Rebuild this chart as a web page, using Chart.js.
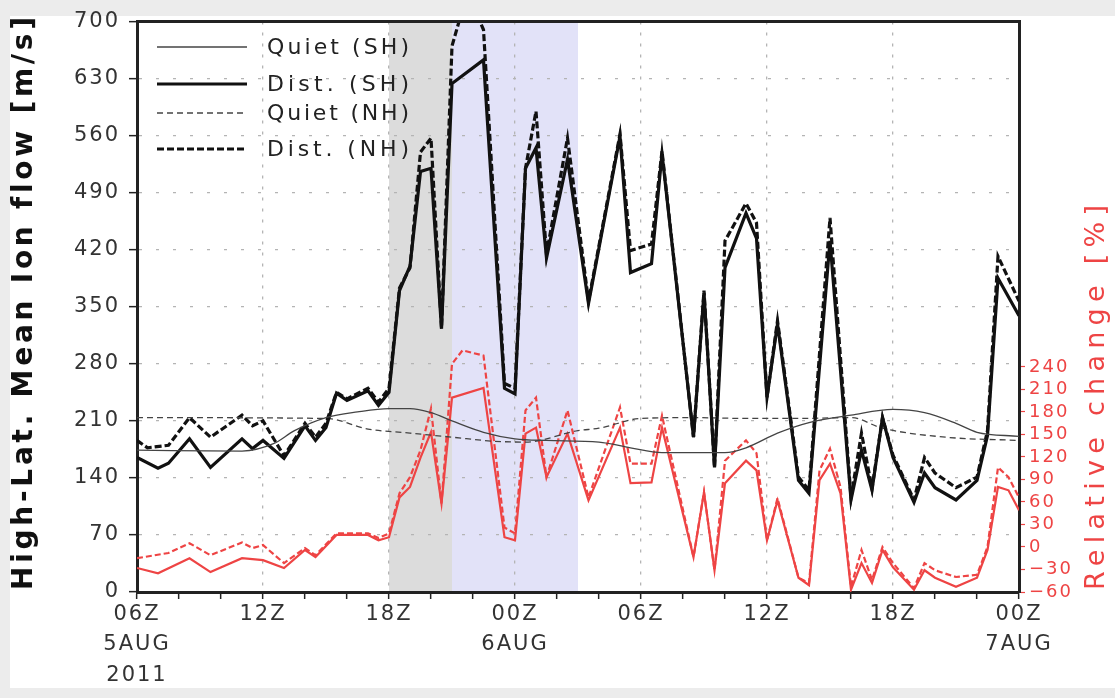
<!DOCTYPE html>
<html>
<head>
<meta charset="utf-8">
<script src="https://cdn.jsdelivr.net/npm/chart.js@4.4.1/dist/chart.umd.min.js"></script>
<style>
  html, body { margin: 0; padding: 0; background: #ececec; }
  #wrap { width: 1115px; height: 698px; }
</style>
</head>
<body>
<div id="wrap"><canvas id="flow" width="1115" height="698"></canvas></div>
<script>
// time axis: hours after 06Z 5AUG2011
const quietShHours = [0, 5, 6.5, 7.5, 9, 10.5, 12, 13, 14, 15, 16.5, 18, 19.5, 22, 23.5, 25, 28, 29, 30.5, 32, 34, 36, 37.5, 39, 40, 42];
const quietShFlow  = [174, 173, 182, 198, 214, 221, 225, 225, 220, 210, 196, 188, 186, 184, 177, 171, 171, 177, 195, 208, 217, 224, 220, 207, 196, 191];

const quietNhHours = [0, 9, 11, 13, 15, 17, 18.5, 21, 22, 24, 26.5, 29, 31.5, 34, 35.5, 38.5, 42];
const quietNhFlow  = [214, 213, 200, 195, 190, 185, 184, 198, 201, 213, 214, 213, 213, 214, 201, 190, 186];

const distShHours = [0, 1, 1.5, 2.5, 3.5, 5, 5.5, 6, 7, 8, 8.5, 9, 9.5, 10, 11, 11.5, 12, 12.5, 13, 13.5,
  14, 14.5, 15, 16.5, 17.5, 18, 18.5, 19, 19.5, 20.5, 21.5, 23, 23.5, 24.5, 25, 26.5, 27, 27.5, 28, 29,
  29.5, 30, 30.5, 31.5, 32, 33, 34, 34.5, 35, 35.5, 36, 37, 37.5, 38, 39, 40, 40.5, 41, 42];
const distShFlow  = [165, 152, 158, 188, 153, 188, 176, 186, 164, 204, 186, 202, 244, 235, 247, 229, 245, 370, 400, 516,
  520, 323, 624, 653, 250, 243, 520, 545, 410, 531, 354, 559, 392, 403, 538, 190, 367, 153, 398, 465,
  434, 239, 329, 137, 121, 431, 113, 174, 125, 214, 165, 110, 146, 128, 113, 137, 192, 385, 339];

const distNhHours = [0, 0.5, 1.5, 2.5, 3.5, 5, 5.5, 6, 7, 8, 8.5, 9, 9.5, 10, 11, 11.5, 12, 12.5, 13, 13.5,
  14, 14.5, 15, 15.5, 16, 16.5, 17.5, 18, 18.5, 19, 19.5, 20.5, 21.5, 23, 23.5, 24.5, 25, 26.5, 27, 27.5,
  28, 29, 29.5, 30, 30.5, 31.5, 32, 33, 34, 34.5, 35, 35.5, 36, 37, 37.5, 38, 39, 40, 40.5, 41, 42];
const distNhFlow  = [186, 177, 180, 214, 190, 217, 204, 210, 167, 207, 190, 207, 245, 237, 250, 233, 250, 373, 398, 540,
  557, 324, 670, 715, 720, 690, 256, 250, 520, 590, 415, 557, 357, 562, 419, 427, 541, 190, 370, 153,
  431, 477, 453, 239, 333, 141, 125, 459, 116, 195, 127, 214, 168, 113, 165, 146, 128, 141, 198, 412, 357];

// relative change (%), right axis
const relShHours = [0, 1, 2.5, 3.5, 5, 6, 7, 8, 8.5, 9.5, 11, 11.5, 12, 12.5, 13, 13.5, 14, 14.5, 15, 16.5,
  17.5, 18, 18.5, 19, 19.5, 20.5, 21.5, 23, 23.5, 24.5, 25, 26.5, 27, 27.5, 28, 29, 29.5, 30, 30.5, 31.5,
  32, 32.5, 33, 33.5, 34, 34.5, 35, 35.5, 36, 37, 37.5, 38, 39, 40, 40.5, 41, 41.5, 42];
const relShPct   = [-28, -35, -15, -33.5, -15, -17.5, -28, -4, -13.5, 16, 16, 9, 13, 66, 80, 119, 153, 58, 199, 212,
  13, 9, 151, 159, 93, 151, 62, 159, 85, 86, 159, -13.5, 73, -31, 85, 115, 102, 9, 62, -41,
  -51, 89, 111, 71.5, -57, -21.5, -48, -4, -27, -57, -31, -41, -53, -41, -4, 80, 75.5, 49];

const relNhHours = [0, 1.5, 2.5, 3.5, 5, 5.5, 6, 7, 8, 8.5, 9.5, 11, 11.5, 12, 12.5, 13, 13.5, 14, 14.5, 15,
  15.5, 16.5, 17.5, 18, 18.5, 19, 19.5, 20.5, 21.5, 23, 23.5, 24.5, 25, 26.5, 27, 27.5, 28, 29, 29.5, 30,
  30.5, 31.5, 32, 32.5, 33, 33.5, 34, 34.5, 35, 35.5, 36, 37, 37.5, 38, 39, 40, 40.5, 41, 41.5, 42];
const relNhPct   = [-15, -8, 5, -11, 6, -1.5, 2.5, -21.5, -1.5, -11, 18, 18, 12, 18, 71.5, 93, 129, 184.5, 58, 244,
  262, 255, 26, 18, 182, 199, 93, 182, 66, 186, 111, 111, 175, -13.5, 73, -31, 115, 142, 125, 9,
  65, -41, -48, 102, 131, 80, -53, -4, -44, 0, -21.5, -55, -21.5, -31, -40, -37, 0, 106, 93, 66];

const xTickHours  = [0, 6, 12, 18, 24, 30, 36, 42];
const xTickLabels = [['06Z', '5AUG', '2011'], ['12Z'], ['18Z'], ['00Z', '6AUG'], ['06Z'], ['12Z'], ['18Z'], ['00Z', '7AUG']];

// shaded periods (hours)
const shadeFrom  = [12, 15];
const shadeTo    = [15, 21];
const shadeColor = ['#dcdcdc', '#e2e2f8'];

const RED = '#ee4444';
const pts = (xs, ys) => xs.map((x, i) => ({ x: x, y: ys[i] }));

// fit text to a given length using letter spacing
function fitSpacing(ctx, text, len) {
  ctx.letterSpacing = '0px';
  const w = ctx.measureText(text).width;
  return Math.max(0, (len - w) / (text.length - 1)) + 'px';
}

const decor = {
  id: 'decor',
  beforeDraw(chart) {
    const { ctx, chartArea: a, scales: { x } } = chart;
    ctx.save();
    ctx.fillStyle = '#ffffff';
    ctx.fillRect(10, 16, chart.width - 10, 672);
    shadeFrom.forEach((h, i) => {
      const x1 = x.getPixelForValue(h), x2 = x.getPixelForValue(shadeTo[i]);
      ctx.fillStyle = shadeColor[i];
      ctx.fillRect(x1, a.top, x2 - x1, a.bottom - a.top);
    });
    ctx.restore();
    ctx.letterSpacing = '2px';
  },
  afterDraw(chart) {
    const { ctx, chartArea: a } = chart;
    ctx.save();
    // top frame line
    ctx.strokeStyle = '#222';
    ctx.lineWidth = 3;
    ctx.beginPath();
    ctx.moveTo(a.left, a.top);
    ctx.lineTo(a.right, a.top);
    ctx.stroke();

    // legend (black series only)
    const rows = [47, 84, 113, 149];
    ctx.font = '22px "DejaVu Sans"';
    ctx.textBaseline = 'middle';
    ctx.fillStyle = '#222';
    chart.data.datasets.slice(0, 4).forEach((ds, i) => {
      ctx.strokeStyle = ds.borderColor;
      ctx.lineWidth = ds.borderWidth;
      ctx.setLineDash(ds.borderDash || []);
      ctx.beginPath();
      ctx.moveTo(157, rows[i]);
      ctx.lineTo(247, rows[i]);
      ctx.stroke();
      ctx.setLineDash([]);
      ctx.letterSpacing = fitSpacing(ctx, ds.label, 142);
      ctx.fillText(ds.label, 267, rows[i] + 1);
    });

    // axis titles
    ctx.textBaseline = 'middle';
    ctx.textAlign = 'left';
    ctx.save();
    ctx.translate(25, 590);
    ctx.rotate(-Math.PI / 2);
    ctx.font = 'bold 28px "DejaVu Sans"';
    const leftTitle = 'High-Lat. Mean Ion flow [m/s]';
    ctx.letterSpacing = fitSpacing(ctx, leftTitle, 572);
    ctx.fillStyle = '#111';
    ctx.fillText(leftTitle, 0, 0);
    ctx.restore();

    ctx.save();
    ctx.translate(1097, 590);
    ctx.rotate(-Math.PI / 2);
    ctx.font = '27px "DejaVu Sans"';
    const rightTitle = 'Relative change [%]';
    ctx.letterSpacing = fitSpacing(ctx, rightTitle, 385);
    ctx.fillStyle = RED;
    ctx.fillText(rightTitle, 0, 0);
    ctx.restore();
    ctx.restore();
  }
};

Chart.defaults.font.family = '"DejaVu Sans"';

new Chart(document.getElementById('flow'), {
  type: 'line',
  data: {
    datasets: [
      { label: 'Quiet (SH)', data: pts(quietShHours, quietShFlow), borderColor: '#444', borderWidth: 1.3, yAxisID: 'y', cubicInterpolationMode: 'monotone' },
      { label: 'Dist. (SH)', data: pts(distShHours, distShFlow), borderColor: '#111', borderWidth: 3.2, yAxisID: 'y' },
      { label: 'Quiet (NH)', data: pts(quietNhHours, quietNhFlow), borderColor: '#444', borderWidth: 1.3, borderDash: [6, 4], yAxisID: 'y', cubicInterpolationMode: 'monotone' },
      { label: 'Dist. (NH)', data: pts(distNhHours, distNhFlow), borderColor: '#111', borderWidth: 3.2, borderDash: [7, 3], yAxisID: 'y' },
      { label: 'Rel. change (SH)', data: pts(relShHours, relShPct), borderColor: RED, borderWidth: 2.2, yAxisID: 'y2' },
      { label: 'Rel. change (NH)', data: pts(relNhHours, relNhPct), borderColor: RED, borderWidth: 2.2, borderDash: [6, 3], yAxisID: 'y2' }
    ]
  },
  options: {
    responsive: false,
    animation: false,
    layout: { padding: { top: 20, left: 0, right: 0, bottom: 0 } },
    elements: { point: { radius: 0 }, line: { tension: 0 } },
    plugins: { legend: { display: false }, tooltip: { enabled: false } },
    scales: {
      x: {
        type: 'linear', min: 0, max: 42,
        afterFit: s => { s.height = 106; },
        ticks: {
          stepSize: 2, autoSkip: false, maxRotation: 0, padding: 0,
          color: '#333', font: { size: 21, lineHeight: 1.45 },
          callback: v => { const i = xTickHours.indexOf(v); return i < 0 ? '' : xTickLabels[i]; }
        },
        grid: {
          color: c => (c.tick && c.tick.value % 6 === 0) ? '#b4b4b4' : 'rgba(0,0,0,0)',
          lineWidth: 1.3, tickColor: '#222', tickLength: 7, tickWidth: 1.5
        },
        border: { color: '#222', width: 3, dash: [3, 8] }
      },
      y: {
        position: 'left', min: 0, max: 700,
        afterFit: s => { s.width = 137; },
        ticks: { stepSize: 70, padding: 9, color: '#333', font: { size: 21 } },
        grid: { color: '#b4b4b4', lineWidth: 1.3, tickColor: '#222', tickLength: 8, tickWidth: 1.5 },
        border: { color: '#222', width: 3, dash: [3, 14] }
      },
      y2: {
        position: 'right', min: -60, max: 700,
        afterFit: s => { s.width = 96; },
        ticks: {
          stepSize: 30, autoSkip: false, padding: 4, color: RED, font: { size: 18 },
          callback: v => v > 240 ? '' : (v < 0 ? '\u2212' + Math.abs(v) : String(v))
        },
        grid: {
          drawOnChartArea: false, tickLength: 6, tickWidth: 1.2,
          tickColor: c => (c.tick && c.tick.value <= 240) ? RED : 'rgba(0,0,0,0)'
        },
        border: { color: '#222', width: 3 }
      }
    }
  },
  plugins: [decor]
});
</script>
</body>
</html>
